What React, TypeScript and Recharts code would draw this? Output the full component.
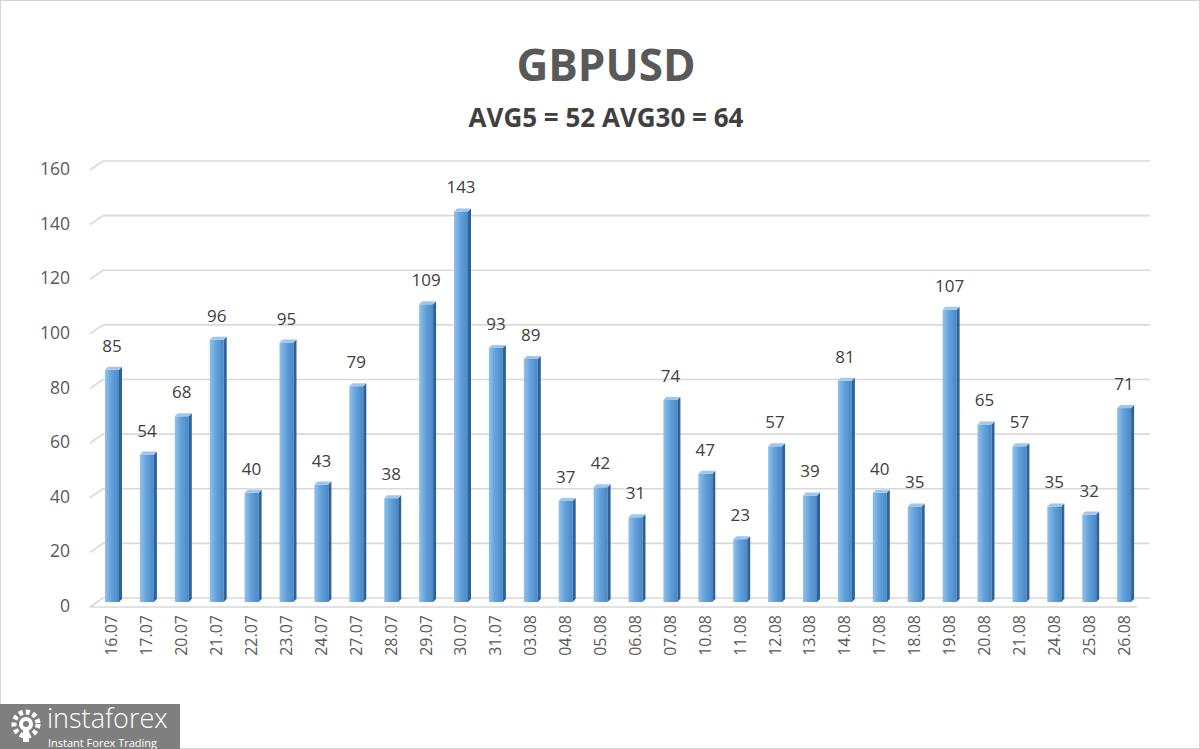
import React from "react"
import { BarChart, Bar, XAxis, YAxis, CartesianGrid, LabelList } from "recharts"

const dates = [
  "16.07", "17.07", "20.07", "21.07", "22.07", "23.07", "24.07", "27.07", "28.07", "29.07",
  "30.07", "31.07", "03.08", "04.08", "05.08", "06.08", "07.08", "10.08", "11.08", "12.08",
  "13.08", "14.08", "17.08", "18.08", "19.08", "20.08", "21.08", "24.08", "25.08", "26.08",
]

const ranges = [
  85, 54, 68, 96, 40, 95, 43, 79, 38, 109,
  143, 93, 89, 37, 42, 31, 74, 47, 23, 57,
  39, 81, 40, 35, 107, 65, 57, 35, 32, 71,
]

const yTicks = [0, 20, 40, 60, 80, 100, 120, 140, 160]

const data = dates.map((d, i) => ({ date: d, value: ranges[i] }))

const FONT = "'Open Sans', 'Noto Sans', sans-serif"
const DEPTH = 3

// 3D-ish column: front face, right side and top cap
function Column(props: any) {
  const { x, y, width, height } = props
  if (height <= 0) return null
  const d = DEPTH
  return (
    <g>
      <rect x={x} y={y} width={width} height={height} fill="url(#frontGrad)" />
      <polygon
        points={`${x + width},${y} ${x + width + d},${y - d} ${x + width + d},${y + height - d} ${x + width},${y + height}`}
        fill="#2d6399"
      />
      <polygon
        points={`${x},${y} ${x + d},${y - d} ${x + width + d},${y - d} ${x + width},${y}`}
        fill="#9fc6ec"
      />
    </g>
  )
}

// gridline on the back wall with the little diagonal to the front
function GridLine(props: any) {
  const { x1, x2, y1, index } = props
  const isFloor = Math.abs(y1 - 602) < 1
  return (
    <g key={`g-${index}-${y1}`}>
      <line x1={x1 + 8} y1={y1 - 4} x2={x2 + 8} y2={y1 - 4} stroke="#d9d9d9" strokeWidth={1.6} />
      <line x1={x1 - 5} y1={y1 + 5} x2={x1 + 8} y2={y1 - 4} stroke="#d9d9d9" strokeWidth={1.6} />
      {isFloor && (
        <line x1={x1 - 5} y1={y1 + 5} x2={x2 - 5} y2={y1 + 5} stroke="#d9d9d9" strokeWidth={1.6} />
      )}
    </g>
  )
}

function DateTick(props: any) {
  const { x, payload } = props
  const y = 615
  return (
    <text
      x={x}
      y={y}
      dy={5}
      transform={`rotate(-90 ${x} ${y})`}
      textAnchor="end"
      fill="#595959"
      fontSize={16}
      fontFamily={FONT}
    >
      {payload.value}
    </text>
  )
}

function ValueTick(props: any) {
  const { y, payload } = props
  return (
    <text x={70} y={y + 4} dy={6} textAnchor="end" fill="#595959" fontSize={17.5} fontFamily={FONT}>
      {payload.value}
    </text>
  )
}

export default function App() {
  return (
    <div
      style={{
        position: "absolute",
        left: 0,
        top: 0,
        width: 1200,
        height: 749,
        background: "#fff",
        overflow: "hidden",
        fontFamily: FONT,
      }}
    >
      <div
        style={{
          position: "absolute",
          left: 0,
          top: 0,
          width: 1198,
          height: 747,
          border: "1px solid #d4d4d4",
        }}
      />

      <div
        style={{
          position: "absolute",
          left: 0,
          width: 1212,
          top: 36,
          textAlign: "center",
          fontSize: 44,
          fontWeight: 700,
          color: "#595959",
          lineHeight: "56px",
        }}
      >
        GBPUSD
      </div>
      <div
        style={{
          position: "absolute",
          left: 0,
          width: 1212,
          top: 100,
          textAlign: "center",
          fontSize: 26,
          fontWeight: 700,
          color: "#404040",
          lineHeight: "34px",
        }}
      >
        AVG5 = 52 AVG30 = 64
      </div>

      <div style={{ position: "absolute", left: 0, top: 0 }}>
        <BarChart
          width={1200}
          height={749}
          data={data}
          margin={{ top: 165, right: 58, bottom: 0, left: 0 }}
          barCategoryGap="60%"
        >
          <defs>
            <linearGradient id="frontGrad" x1="0" y1="0" x2="1" y2="0">
              <stop offset="0%" stopColor="#92c1eb" />
              <stop offset="45%" stopColor="#63a2db" />
              <stop offset="100%" stopColor="#4a88c7" />
            </linearGradient>
          </defs>
          <CartesianGrid vertical={false} horizontal={GridLine as any} />
          <XAxis
            dataKey="date"
            height={147}
            interval={0}
            tickLine={false}
            axisLine={false}
            tick={<DateTick />}
          />
          <YAxis
            width={95}
            domain={[0, 160]}
            ticks={yTicks}
            tickLine={false}
            axisLine={false}
            tickSize={0}
            tick={<ValueTick />}
          />
          <Bar dataKey="value" barSize={14} shape={<Column />} isAnimationActive={false}>
            <LabelList
              dataKey="value"
              position="top"
              offset={18}
              fill="#404040"
              fontSize={17}
              fontFamily={FONT}
            />
          </Bar>
        </BarChart>
      </div>

      <div
        style={{
          position: "absolute",
          left: 0,
          top: 704,
          width: 180,
          height: 45,
          background: "#7f7f7f",
          color: "#fff",
        }}
      >
        <svg width={44} height={44} style={{ position: "absolute", left: 6, top: 2 }}>
          <circle cx={20} cy={18} r={12} fill="none" stroke="#fff" strokeWidth={5} strokeDasharray="4 3" />
          <circle cx={20} cy={18} r={7} fill="#fff" />
          <rect x={17} y={18} width={6} height={18} fill="#fff" />
          <circle cx={20} cy={18} r={3} fill="#7f7f7f" />
        </svg>
        <div
          style={{
            position: "absolute",
            left: 47,
            top: 1,
            fontSize: 27,
            lineHeight: "26px",
            fontWeight: 300,
          }}
        >
          instaforex
        </div>
        <div
          style={{
            position: "absolute",
            left: 48,
            top: 33,
            fontSize: 11,
            lineHeight: "12px",
          }}
        >
          Instant Forex Trading
        </div>
      </div>
    </div>
  )
}
